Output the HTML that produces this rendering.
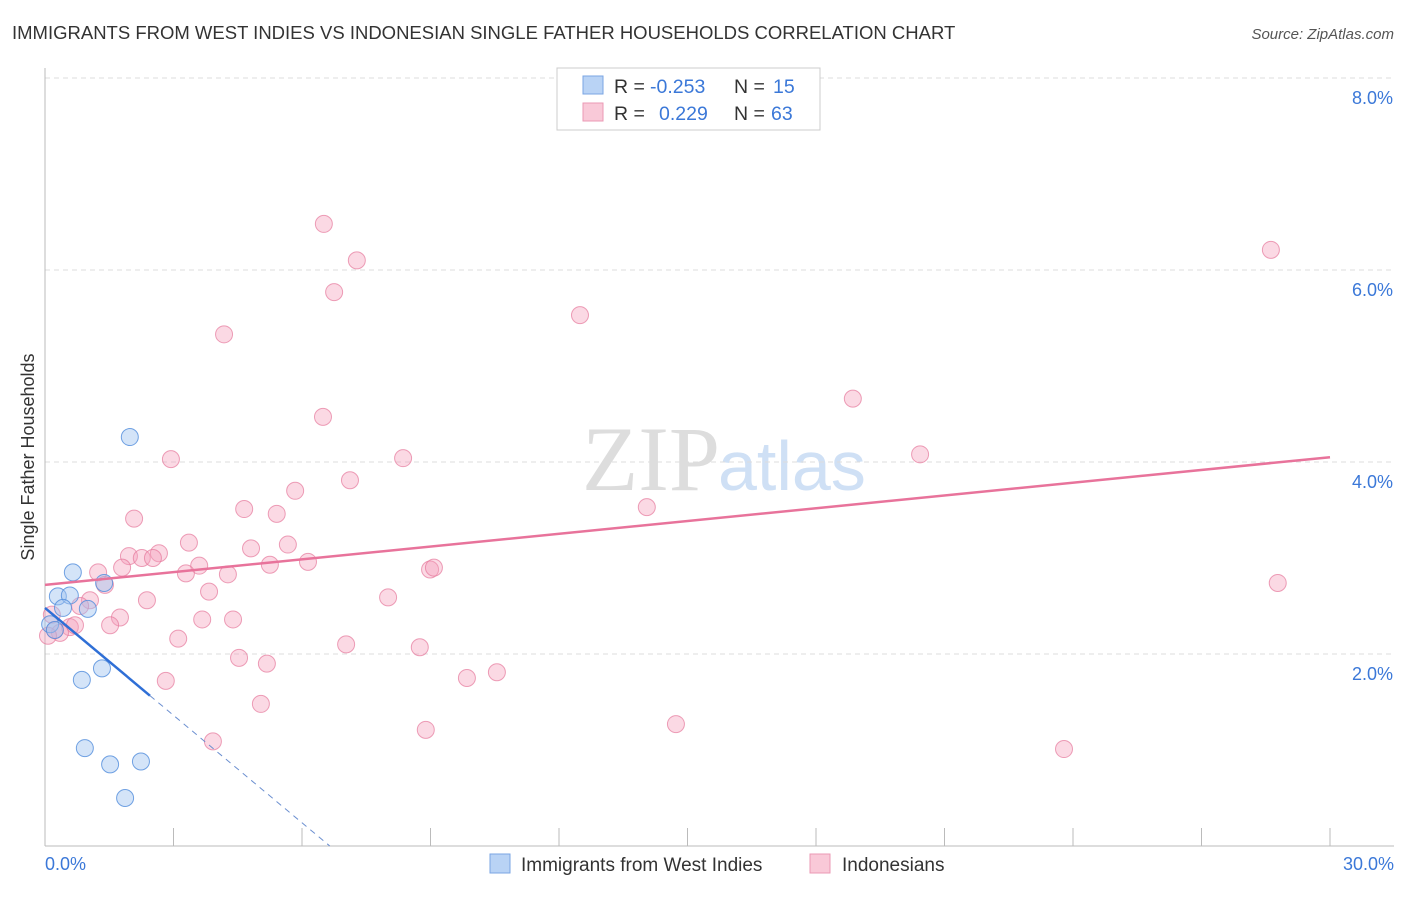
<!DOCTYPE html>
<html><head><meta charset="utf-8"><style>
body{margin:0;background:#fff;font-family:"Liberation Sans",sans-serif}
</style></head><body>
<svg width="1406" height="892" xmlns="http://www.w3.org/2000/svg" style="font-family:'Liberation Sans',sans-serif">
<text x="12" y="39" font-size="18.5" fill="#333">IMMIGRANTS FROM WEST INDIES VS INDONESIAN SINGLE FATHER HOUSEHOLDS CORRELATION CHART</text>
<text x="1394" y="39" font-size="15" fill="#555" font-style="italic" text-anchor="end">Source: ZipAtlas.com</text>
<text x="720" y="490" font-size="92" fill="#ddd" text-anchor="end" font-family="Liberation Serif">ZIP</text>
<text x="718" y="490" font-size="70" fill="#cfe0f5">atlas</text>
<g id="grid"></g>
<line x1="45" y1="68" x2="45" y2="846" stroke="#bbb"/>
<line x1="45" y1="846" x2="1394" y2="846" stroke="#bbb"/>
<g id="xt"></g>
<g id="pts"></g>
<g id="lines"></g>
<text transform="translate(34,457) rotate(-90)" font-size="18" fill="#333" text-anchor="middle">Single Father Households</text>
<text x="45" y="870" font-size="18" fill="#3b78d8">0.0%</text>
<text x="1394" y="870" font-size="18" fill="#3b78d8" text-anchor="end">30.0%</text>
<g font-size="19.5">
<rect x="557" y="68" width="263" height="62" fill="#fff" stroke="#ccc"/>
<rect x="583" y="76" width="20" height="18" fill="#b9d3f5" stroke="#7aa5e3"/>
<rect x="583" y="103" width="20" height="18" fill="#f9c9d8" stroke="#eb99b4"/>
<text x="614" y="93" fill="#333">R =</text>
<text x="650" y="93" fill="#3b78d8">-0.253</text>
<text x="734" y="93" fill="#333">N =</text>
<text x="773" y="93" fill="#3b78d8">15</text>
<text x="614" y="120" fill="#333">R =</text>
<text x="659" y="120" fill="#3b78d8">0.229</text>
<text x="734" y="120" fill="#333">N =</text>
<text x="771" y="120" fill="#3b78d8">63</text>
</g>
<g>
<rect x="490" y="854" width="20" height="19" fill="#b9d3f5" stroke="#7aa5e3"/>
<text x="521" y="871" font-size="19" fill="#333">Immigrants from West Indies</text>
<rect x="810" y="854" width="20" height="19" fill="#f9c9d8" stroke="#eb99b4"/>
<text x="842" y="871" font-size="19" fill="#333">Indonesians</text>
</g>
</svg>
<script>
const yTicks=[2,4,6,8];
const yTickLabels=["2.0%","4.0%","6.0%","8.0%"];
const xTicks=[0,3,6,9,12,15,18,21,24,27,30];
const blueX=[1.98,0.65,0.30,0.58,0.42,1.00,1.38,0.12,0.23,1.33,0.86,0.93,1.52,2.24,1.87];
const blueY=[4.26,2.85,2.60,2.61,2.48,2.47,2.74,2.31,2.25,1.85,1.73,1.02,0.85,0.88,0.50];
const pinkX=[6.51,7.28,6.75,4.18,12.49,28.62,6.49,18.86,20.43,2.94,8.36,7.12,5.84,4.65,5.41,2.08,14.05,3.36,4.81,5.67,1.96,2.26,2.66,2.52,6.14,3.60,5.25,1.80,1.24,3.29,4.27,8.99,9.08,1.40,3.83,8.01,28.78,2.38,1.05,0.82,1.75,3.67,4.39,1.52,0.58,0.23,0.35,0.07,3.11,7.03,8.75,4.53,5.18,10.55,9.85,2.82,5.04,3.92,8.89,14.73,23.79,0.16,0.70];
const pinkY=[6.48,6.10,5.77,5.33,5.53,6.21,4.47,4.66,4.08,4.03,4.04,3.81,3.70,3.51,3.46,3.41,3.53,3.16,3.10,3.14,3.02,3.00,3.05,3.00,2.96,2.92,2.93,2.90,2.85,2.84,2.83,2.88,2.90,2.72,2.65,2.59,2.74,2.56,2.56,2.50,2.38,2.36,2.36,2.30,2.28,2.25,2.22,2.19,2.16,2.10,2.07,1.96,1.90,1.81,1.75,1.72,1.48,1.09,1.21,1.27,1.01,2.41,2.30];
const pinkTrend=[2.72,4.05];
const blueTrend=[2.48,-0.373,2.45];
const X=v=>45+v/30*1285, Y=v=>846-v*96;
const NS="http://www.w3.org/2000/svg";
function mk(t,a,p){const e=document.createElementNS(NS,t);for(const k in a)e.setAttribute(k,a[k]);document.getElementById(p).appendChild(e);return e;}
yTicks.forEach((v,i)=>{
 const l=mk('line',{x1:45,x2:1394,y1:Y(v),y2:Y(v),stroke:'#ddd','stroke-dasharray':'5,4'},'grid');
 
 
 const t=mk('text',{x:1393,y:Y(v)+26,'font-size':18,fill:'#3b78d8','text-anchor':'end'},'grid');
 t.textContent=yTickLabels[i];
 
 
});
xTicks.forEach(v=>{
 const l=mk('line',{x1:X(v),x2:X(v),y1:828,y2:846,stroke:'#bbb'},'xt');
 
 
});
pinkX.forEach((v,i)=>{
 const c=mk('circle',{cx:X(v),cy:Y(pinkY[i]),r:8.5,fill:'rgba(244,160,188,0.4)',stroke:'rgba(230,120,155,0.7)','stroke-width':1},'pts');
 
 
});
blueX.forEach((v,i)=>{
 const c=mk('circle',{cx:X(v),cy:Y(blueY[i]),r:8.5,fill:'rgba(160,195,240,0.45)',stroke:'rgba(80,140,220,0.8)','stroke-width':1},'pts');
 
 
});
let l=mk('line',{x1:X(0),y1:Y(pinkTrend[0]),x2:X(30),y2:Y(pinkTrend[1]),stroke:'#e8739b','stroke-width':2.5},'lines');


const bz=-blueTrend[0]/blueTrend[1];
l=mk('line',{x1:X(0),y1:Y(blueTrend[0]),x2:X(blueTrend[2]),y2:Y(blueTrend[0]+blueTrend[1]*blueTrend[2]),stroke:'#2f6fd6','stroke-width':2.5},'lines');


l=mk('line',{x1:X(blueTrend[2]),y1:Y(blueTrend[0]+blueTrend[1]*blueTrend[2]),x2:X(bz),y2:Y(0),stroke:'#6b8fd0','stroke-width':1,'stroke-dasharray':'6,5'},'lines');


</script>
</body></html>
